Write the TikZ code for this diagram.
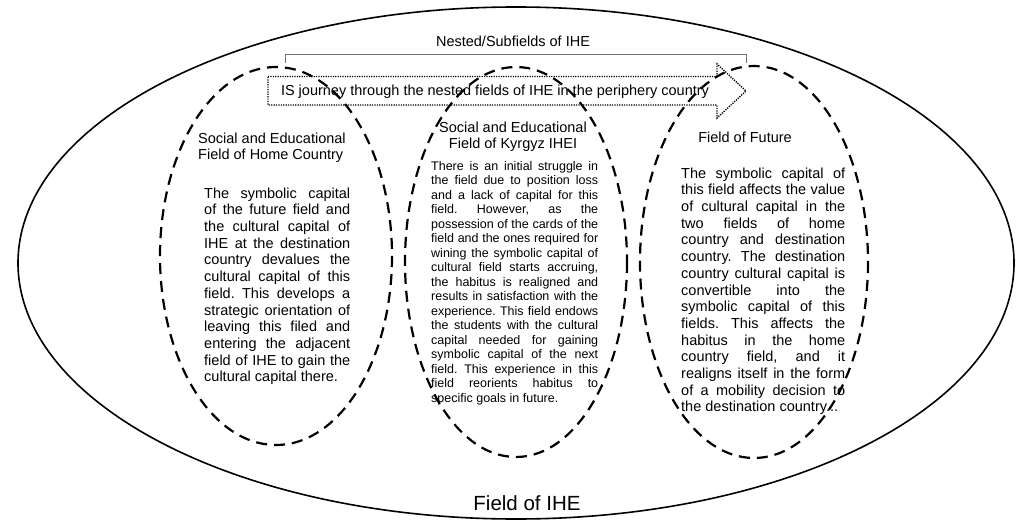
\documentclass[tikz,border=0pt]{standalone}
\usepackage{fontspec}
\setmainfont{Liberation Sans}
\usetikzlibrary{calc}
\newcommand{\bodyfont}{\fontsize{14.5}{16.7}\selectfont}
\newcommand{\narrowfont}{\fontsize{12.5}{14.5}\selectfont}
\frenchspacing
\tolerance=10000
\hbadness=10000
\hfuzz=4pt
\hyphenpenalty=10000
\exhyphenpenalty=10000

\begin{document}
\begin{tikzpicture}[x=10pt, y=-10pt,
	fieldline/.style={line width=2.2pt, dash pattern=on 11pt off 7pt},
	journeyline/.style={line width=1.4pt, dash pattern=on 1.2pt off 1.2pt},
	titletext/.style={font=\bodyfont, inner sep=0pt},
	bodytext/.style={font=\bodyfont, inner sep=0pt, align=justify, anchor=north west}]
		%%%%% START %%%%%
		
		\useasboundingbox (0, 0) rectangle (101.9, 52.4);
		
		\draw[line width=1.6pt] (51.6, 26.3) ellipse [x radius=49.8, y radius=25.6];
		\node[font=\fontsize{20.5}{24}\selectfont, inner sep=0pt, anchor=base] (ihe) at (52.7, 51.0) {Field of IHE};
		
		\draw[line width=0.8pt, color=black!55] (28.5, 6.3) -- (28.5, 5.4) -- (74.6, 5.4) -- (74.6, 6.3);
		\node[titletext, anchor=base] (nested) at (51.3, 4.7) {Nested/Subfields of IHE};
		
		\draw[journeyline] (26.8, 7.65) -- (71.7, 7.65) -- (71.7, 6.4) -- (74.6, 9.1) -- (71.7, 11.8) -- (71.7, 10.5) -- (26.8, 10.5) -- cycle;
		\node[titletext, anchor=base] (journey) at (49.5, 9.6) {IS journey through the nested fields of IHE in the periphery country};
		
		\draw[fieldline] (27.6, 25.6) ellipse [x radius=11.6, y radius=18.9];
		\draw[fieldline] (51.6, 26.2) ellipse [x radius=11.1, y radius=19.5];
		\draw[fieldline] (75.4, 26.2) ellipse [x radius=11.4, y radius=19.6];
		
		% home country
		\node[titletext, align=left, anchor=north west] (hometitle) at (19.8, 13.24) {Social and Educational\\Field of Home Country};
		\node[bodytext, text width=146pt] (homebody) at (20.4, 18.74) {The symbolic capital\linebreak
			of the future field and\linebreak
			the cultural capital of\linebreak
			IHE at the destination\linebreak
			country devalues the\linebreak
			cultural capital of this\linebreak
			field. This develops a\linebreak
			strategic orientation of\linebreak
			leaving this filed and\linebreak
			entering the adjacent\linebreak
			field of IHE to gain the\linebreak
			cultural capital there.};
		
		% kyrgyz IHEI
		\node[titletext, align=center, anchor=north] (kyrgyztitle) at (51.3, 12.14) {Social and Educational\\Field of Kyrgyz IHEI};
		\node[bodytext, font=\narrowfont, text width=167pt] (kyrgyzbody) at (43.1, 16.09) {There is an initial struggle in\linebreak
			the field due to position loss\linebreak
			and a lack of capital for this\linebreak
			field. However, as the\linebreak
			possession of the cards of the\linebreak
			field and the ones required for\linebreak
			wining the symbolic capital of\linebreak
			cultural field starts accruing,\linebreak
			the habitus is realigned and\linebreak
			results in satisfaction with the\linebreak
			experience. This field endows\linebreak
			the students with the cultural\linebreak
			capital needed for gaining\linebreak
			symbolic capital of the next\linebreak
			field. This experience in this\linebreak
			field reorients habitus to\linebreak
			specific goals in future.};
		
		% future
		\node[titletext, anchor=north] (futuretitle) at (74.5, 13.14) {Field of Future};
		\node[bodytext, text width=164pt] (futurebody) at (68.1, 16.74) {The symbolic capital of\linebreak
			this field affects the value\linebreak
			of cultural capital in the\linebreak
			two fields of home\linebreak
			country and destination\linebreak
			country. The destination\linebreak
			country cultural capital is\linebreak
			convertible into the\linebreak
			symbolic capital of this\linebreak
			fields. This affects the\linebreak
			habitus in the home\linebreak
			country field, and it\linebreak
			realigns itself in the form\linebreak
			of a mobility decision to\linebreak
			the destination country...};
		
		%%%%% END %%%%%
	\end{tikzpicture}
\end{document}
